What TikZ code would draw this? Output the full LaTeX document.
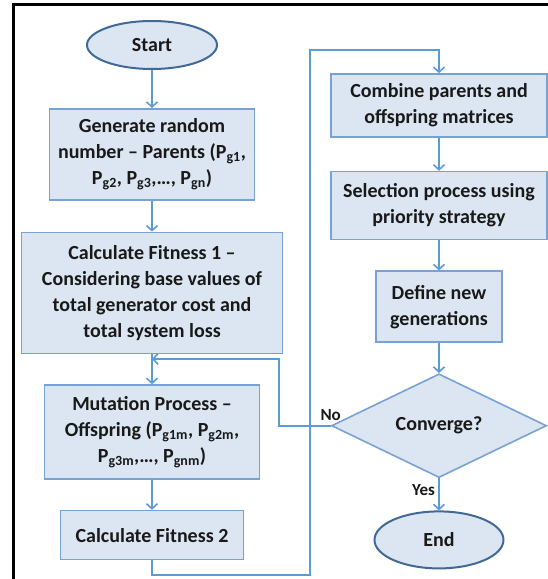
\documentclass[tikz,border=0pt]{standalone}
\usepackage{fontspec}
\setmainfont{Carlito}
\usepackage{tikz}
\usetikzlibrary{positioning,arrows.meta,shapes.geometric}
\definecolor{boxfill}{RGB}{220,230,242}
\definecolor{boxline}{RGB}{120,162,212}
\definecolor{termline}{RGB}{65,105,150}
\definecolor{flowblue}{RGB}{91,155,213}
\definecolor{textdark}{RGB}{25,25,25}

\begin{document}
\begin{tikzpicture}[
  x=1pt, y=1pt,
  font=\fontsize{20}{26}\selectfont\bfseries, text=textdark,
  proc/.style={draw=boxline, line width=1.6pt, fill=boxfill, align=center, inner sep=2pt},
  term/.style={ellipse, draw=termline, line width=2pt, fill=boxfill, inner sep=0pt},
  dec/.style={diamond, draw=boxline, line width=1.6pt, fill=boxfill, inner sep=0pt, minimum width=215pt, minimum height=89pt},
  arr/.style={-{Straight Barb[length=5pt,width=11pt]}, flowblue, line width=1.6pt},
  lbl/.style={font=\fontsize{17}{20}\selectfont\bfseries, text=textdark},
  ]
  \useasboundingbox (0,0) rectangle (548,579);
  % frame edges
  \draw[line width=3pt] (13.5,0) -- (13.5,574.5) -- (548,574.5);
  % left column
  \node[term, minimum width=130pt, minimum height=48pt] (start) at (152,534) {Start};
  \node[proc, below=38pt of start, minimum width=205pt, minimum height=91pt] (gen)
    {Generate random\\number -- Parents (P\textsubscript{g1},\\P\textsubscript{g2}, P\textsubscript{g3},…, P\textsubscript{gn})};
  \node[proc, below=31pt of gen, minimum width=261pt, minimum height=121pt] (fit1)
    {Calculate Fitness 1 --\\Considering base values of\\total generator cost and\\total system loss};
  \node[proc, below=30pt of fit1, minimum width=215pt, minimum height=94pt] (mut)
    {Mutation Process --\\Offspring (P\textsubscript{g1m}, P\textsubscript{g2m},\\P\textsubscript{g3m},…, P\textsubscript{gnm})};
  \node[proc, below=30pt of mut, minimum width=183pt, minimum height=49pt] (fit2) {Calculate Fitness 2};
  \draw[arr] (start) -- (gen);
  \draw[arr] (gen) -- (fit1);
  \draw[arr] (fit1) -- (mut);
  \draw[arr] (mut) -- (fit2);
  % right column
  \node[proc, minimum width=216pt, minimum height=63pt] (comb) at (439,473.5) {Combine parents and\\offspring matrices};
  \node[proc, below=33pt of comb, minimum width=216pt, minimum height=68pt] (sel) {Selection process using\\priority strategy};
  \node[proc, below=30pt of sel, minimum width=126pt, minimum height=71pt] (def) {Define new\\generations};
  \node[dec, below=30pt of def] (conv) {Converge?};
  \node[term, below=32pt of conv, minimum width=129pt, minimum height=57pt] (end) {End};
  \draw[arr] (comb) -- (sel);
  \draw[arr] (sel) -- (def);
  \draw[arr] (def) -- (conv);
  \draw[arr] (conv) -- (end) node[lbl, pos=0.35, left] {Yes};
  % loops
  \coordinate (lowleft) at (152,4);
  \coordinate (lowright) at (310,4);
  \coordinate (topright) at (310,529);
  \coordinate (nocorner) at (279,220);
  \coordinate (nojoin) at (152,220);
  \draw[arr] (fit2.south) -- (lowleft) -- (lowright) -- (topright) -| (comb.north);
  \draw[arr] (conv.west) -| (nocorner) -- (nojoin);
  \node[lbl, above=2pt of conv.west] (nolbl) {No};
\end{tikzpicture}
\end{document}
